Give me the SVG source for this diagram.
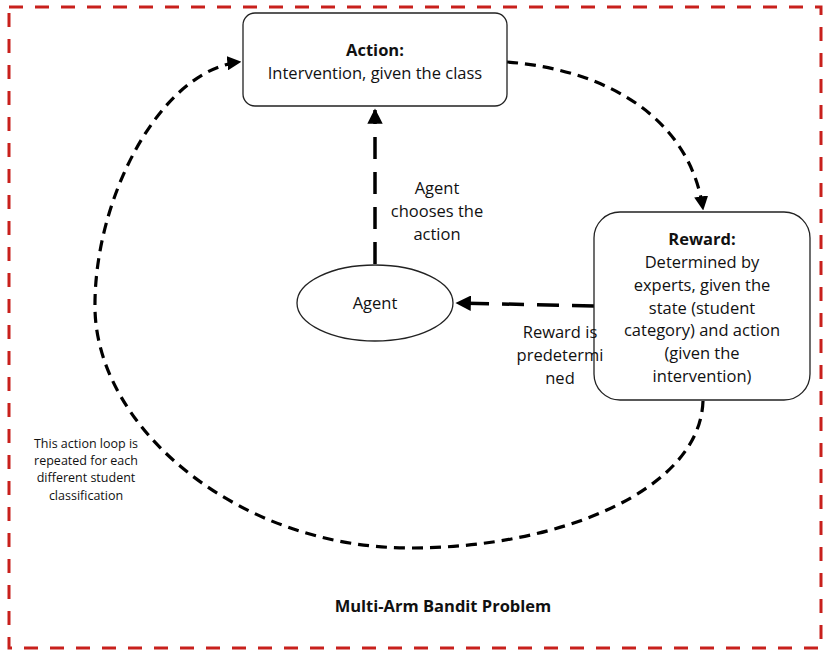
<svg xmlns="http://www.w3.org/2000/svg" width="824" height="650" viewBox="0 0 824 650">
<style>
text{font-family:"Open Sans","Liberation Sans",sans-serif;fill:#111;text-anchor:middle}
.t{font-size:16.5px}
.b{font-weight:bold}
.s{font-size:12.5px}
.node{fill:#fff;stroke:#222;stroke-width:1.3}
.c{fill:none;stroke:#000;stroke-width:3.2;stroke-dasharray:11 7}
.cl{fill:none;stroke:#000;stroke-width:3.5;stroke-dasharray:22 13}
</style>
<defs>
<marker id="ah" viewBox="0 0 10 10" refX="9" refY="5" markerWidth="4.4" markerHeight="4.4" orient="auto" markerUnits="strokeWidth">
<path d="M0,0 L10,5 L0,10 z" fill="#000"/>
</marker>
</defs>
<rect x="9" y="7" width="812" height="641" fill="none" stroke="#c8201c" stroke-width="3" stroke-dasharray="14 12"/>
<g id="connectors">
<path class="cl" d="M375,264 L375,110" marker-end="url(#ah)"/>
<path class="cl" d="M594,306 L457,303" marker-end="url(#ah)"/>
<path class="c" d="M507,62 C610,70 690,120 703,209" marker-end="url(#ah)"/>
<path class="c" d="M703,401 C700,490 560,548 410,548 C240,548 98,430 95,310 C93,200 160,70 240,62" marker-end="url(#ah)"/>
</g>
<g id="action">
<rect class="node" x="243" y="13" width="264" height="93" rx="12"/>
<text class="t b" x="375" y="56">Action:</text>
<text class="t" x="375" y="79">Intervention, given the class</text>
</g>
<g id="reward">
<rect class="node" x="594" y="212" width="216" height="188" rx="26"/>
<text class="t b" x="702" y="245">Reward:</text>
<text class="t" x="702" y="268">Determined by</text>
<text class="t" x="702" y="291">experts, given the</text>
<text class="t" x="702" y="314">state (student</text>
<text class="t" x="702" y="336">category) and action</text>
<text class="t" x="702" y="359">(given the</text>
<text class="t" x="702" y="382">intervention)</text>
</g>
<g id="agent">
<ellipse class="node" cx="375" cy="303" rx="78" ry="38"/>
<text class="t" x="375" y="309">Agent</text>
</g>
<g id="labels">
<text class="t" x="437" y="194">Agent</text>
<text class="t" x="437" y="217">chooses the</text>
<text class="t" x="437" y="240">action</text>
<text class="t" x="560" y="338">Reward is</text>
<text class="t" x="560" y="361">predetermi</text>
<text class="t" x="560" y="384">ned</text>
<text class="s" x="86" y="448">This action loop is</text>
<text class="s" x="86" y="465">repeated for each</text>
<text class="s" x="86" y="482">different student</text>
<text class="s" x="86" y="500">classification</text>
<text class="t b" x="443" y="612">Multi-Arm Bandit Problem</text>
</g>
</svg>
